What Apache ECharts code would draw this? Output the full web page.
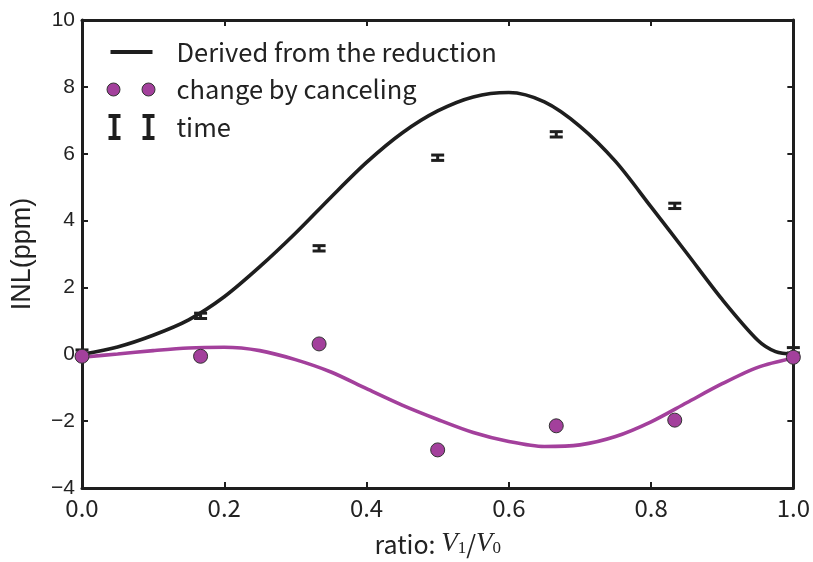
<!DOCTYPE html>
<html>
<head>
<meta charset="utf-8">
<script src="https://cdn.jsdelivr.net/npm/echarts@6/dist/echarts.min.js"></script>
<style>html,body{margin:0;padding:0;background:#fff}#c{width:813px;height:562px}</style>
</head>
<body>
<div id="c"></div>
<script>
// ---- data ----
const derivedX = [0, 0.05, 0.10, 0.15, 0.20, 0.25, 0.30, 0.35, 0.40, 0.45, 0.50, 0.55, 0.60, 0.65, 0.70, 0.75, 0.80, 0.85, 0.90, 0.95, 0.975, 1.0];
const derivedY = [0, 0.22, 0.57, 1.03, 1.72, 2.62, 3.62, 4.70, 5.74, 6.62, 7.28, 7.70, 7.83, 7.55, 6.82, 5.77, 4.41, 3.03, 1.64, 0.42, 0.08, 0.0];
const cancelCurveX = [0, 0.05, 0.10, 0.15, 0.20, 0.25, 0.30, 0.35, 0.40, 0.45, 0.50, 0.55, 0.60, 0.65, 0.70, 0.75, 0.80, 0.85, 0.90, 0.95, 1.0];
const cancelCurveY = [-0.09, 0.01, 0.11, 0.19, 0.21, 0.11, -0.16, -0.53, -1.03, -1.52, -1.95, -2.34, -2.61, -2.76, -2.71, -2.46, -2.02, -1.45, -0.88, -0.39, -0.11];
const pointX = [0, 0.1667, 0.3333, 0.5, 0.6667, 0.8333, 1.0];
const cancelPointY = [-0.06, -0.06, 0.31, -2.86, -2.14, -1.97, -0.09];
const timeY = [0.05, 1.15, 3.17, 5.88, 6.58, 4.44, 0.12];
const timeErr = [0.08, 0.08, 0.08, 0.08, 0.08, 0.08, 0.08];
const seriesNames = ['Derived from the reduction', 'change by canceling', 'time'];

const BLACK = '#1e1e1e';
const MAG = '#a3409c';
const zip = (a, b) => a.map((v, i) => [v, b[i]]);

const chart = echarts.init(document.getElementById('c'), null, {renderer: 'canvas'});
const axisLine = {show: true, onZero: false, lineStyle: {color: BLACK, width: 3}};
const tickIn = {show: true, inside: true, length: 6, lineStyle: {color: BLACK, width: 2}};

const option = {
  animation: false,
  backgroundColor: '#fff',
  grid: {left: 82, right: 19, top: 20, bottom: 70, containLabel: false},
  legend: {
    orient: 'vertical', left: 106, top: 39, padding: 0,
    itemWidth: 65, itemHeight: 26, itemGap: 11,
    selectedMode: false,
    textStyle: {fontFamily: 'Noto Sans CJK JP', fontSize: 25.5, color: '#222', lineHeight: 26},
    data: [
      {name: seriesNames[0], icon: 'path://M0,0M65,26M4,11h42v4h-42z', itemStyle: {color: BLACK, borderWidth: 0}},
      {name: seriesNames[1], icon: 'path://M0,0M65,26M0.5,13a6.5,6.5 0 1,0 13,0a6.5,6.5 0 1,0 -13,0zM35.5,13a6.5,6.5 0 1,0 13,0a6.5,6.5 0 1,0 -13,0z', itemStyle: {color: MAG, borderColor: '#333', borderWidth: 1}},
      {name: seriesNames[2], icon: 'path://M0,0M65,26M2,0h12v4h-4v18h4v4h-12v-4h4v-18h-4zM36,0h12v4h-4v18h4v4h-12v-4h4v-18h-4z', itemStyle: {color: BLACK, borderWidth: 0}}
    ]
  },
  xAxis: [{
    type: 'value', min: 0, max: 1, interval: 0.2,
    axisLine: axisLine, axisTick: tickIn, splitLine: {show: false},
    axisLabel: {margin: 8, fontFamily: 'Noto Sans CJK JP', fontSize: 24, color: '#222', formatter: v => v.toFixed(1)},
    name: '{t|ratio: }{v|V}{s|1}{t|/}{v|V}{s|0}',
    nameLocation: 'middle', nameGap: 39,
    nameTextStyle: {
      rich: {
        t: {fontFamily: 'Noto Sans CJK JP', fontSize: 25, color: '#222', verticalAlign: 'bottom', lineHeight: 30},
        v: {fontFamily: 'Liberation Serif', fontStyle: 'italic', fontSize: 27, color: '#222', verticalAlign: 'bottom', lineHeight: 30},
        s: {fontFamily: 'Liberation Serif', fontSize: 17, color: '#222', verticalAlign: 'bottom', lineHeight: 11}
      }
    }
  }, {
    type: 'value', min: 0, max: 1, interval: 0.2, position: 'top',
    axisLine: axisLine, axisTick: tickIn, axisLabel: {show: false}, splitLine: {show: false}
  }],
  yAxis: [{
    type: 'value', min: -4, max: 10, interval: 2,
    axisLine: axisLine, axisTick: tickIn, splitLine: {show: false},
    axisLabel: {margin: 7, fontFamily: 'Liberation Sans', fontSize: 21, color: '#222', formatter: v => String(v).replace('-', '\u2212')},
    name: 'INL(ppm)', nameLocation: 'middle', nameGap: 46, nameRotate: 90,
    nameTextStyle: {fontFamily: 'Liberation Sans', fontSize: 27, color: '#222'}
  }, {
    type: 'value', min: -4, max: 10, interval: 2, position: 'right',
    axisLine: axisLine, axisTick: tickIn, axisLabel: {show: false}, splitLine: {show: false}
  }],
  series: [
    {
      name: seriesNames[0], type: 'line', data: zip(derivedX, derivedY),
      smooth: 0.3, symbol: 'none', lineStyle: {color: BLACK, width: 3.6}, itemStyle: {color: BLACK}, z: 3
    },
    {
      name: 'cancelCurve', type: 'line', data: zip(cancelCurveX, cancelCurveY),
      smooth: 0.3, symbol: 'none', lineStyle: {color: MAG, width: 3.6}, itemStyle: {color: MAG}, z: 2
    },
    {
      name: seriesNames[2], type: 'custom',
      data: pointX.map((x, i) => [x, timeY[i], timeY[i] - timeErr[i], timeY[i] + timeErr[i]]),
      renderItem: function (params, api) {
        const x = api.value(0);
        const lo = api.coord([x, api.value(2)]);
        const hi = api.coord([x, api.value(3)]);
        const hw = 6.5;
        const st = {stroke: BLACK, lineWidth: 3};
        return {
          type: 'group',
          children: [
            {type: 'line', shape: {x1: lo[0], y1: lo[1], x2: hi[0], y2: hi[1]}, style: st},
            {type: 'line', shape: {x1: lo[0] - hw, y1: lo[1], x2: lo[0] + hw, y2: lo[1]}, style: st},
            {type: 'line', shape: {x1: hi[0] - hw, y1: hi[1], x2: hi[0] + hw, y2: hi[1]}, style: st}
          ]
        };
      },
      itemStyle: {color: BLACK}, z: 4
    },
    {
      name: seriesNames[1], type: 'scatter', data: zip(pointX, cancelPointY),
      symbol: 'circle', symbolSize: 14,
      itemStyle: {color: MAG, borderColor: '#333', borderWidth: 1, opacity: 1}, z: 5
    }
  ]
};
chart.setOption(option);
</script>
</body>
</html>
